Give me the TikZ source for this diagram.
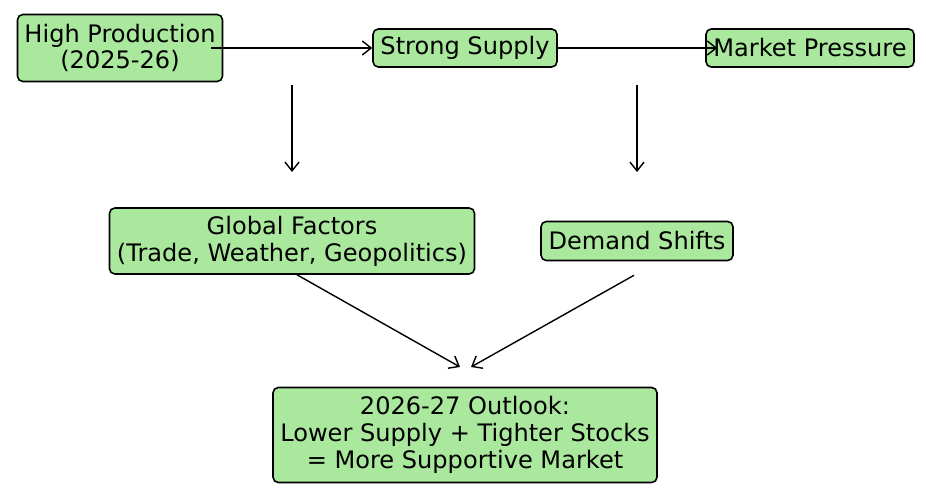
\documentclass[tikz,border=0pt]{standalone}
\usepackage{fontspec}
\setmainfont{DejaVu Sans}
\usetikzlibrary{positioning, arrows.meta}
\definecolor{boxgreen}{HTML}{AAE89E}
\begin{document}
\begin{tikzpicture}[x=0.02cm, y=-0.02cm,
    box/.style={rectangle, draw, rounded corners=3pt, fill=boxgreen, line width=0.9pt, align=center, inner sep=0pt, font=\fontsize{13.7}{15.3}\selectfont},
    flow/.style={-{Straight Barb[length=5pt, width=8pt]}, line width=0.8pt}]
    \useasboundingbox (0,0) rectangle (926,496);
    \node[box, minimum width=205*0.02cm, minimum height=67*0.02cm] (prod) at (120,48) {High Production\\(2025-26)};
    \node[box, minimum width=184*0.02cm, minimum height=38*0.02cm] (supply) at (465,48) {Strong Supply};
    \node[box, minimum width=208*0.02cm, minimum height=38*0.02cm] (pressure) at (810,48) {Market Pressure};
    \node[box, minimum width=365*0.02cm, minimum height=66*0.02cm] (global) at (292,241) {Global Factors\\(Trade, Weather, Geopolitics)};
    \node[box, minimum width=192*0.02cm, minimum height=39*0.02cm] (demand) at (637,241) {Demand Shifts};
    \node[box, minimum width=384*0.02cm, minimum height=95*0.02cm] (outlook) at (465,435) {2026-27 Outlook:\\Lower Supply + Tighter Stocks\\= More Supportive Market};

    \coordinate (a1) at (292,85);
    \coordinate (b1) at (292,172);
    \coordinate (a2) at (637,85);
    \coordinate (b2) at (637,172);
    \coordinate (c1) at (460,367);
    \coordinate (c2) at (471,367);

    \draw[flow] (prod.east) ++(-12,0) -- (supply.west);
    \draw[flow] (supply.east) -- ([xshift=12*0.02cm]pressure.west);
    \draw[flow] (a1) -- (b1);
    \draw[flow] (a2) -- (b2);
    \draw[flow] ([xshift=5*0.02cm]global.south) -- (c1);
    \draw[flow] ([xshift=-3*0.02cm]demand.south) ++(0,14) -- (c2);
\end{tikzpicture}
\end{document}
